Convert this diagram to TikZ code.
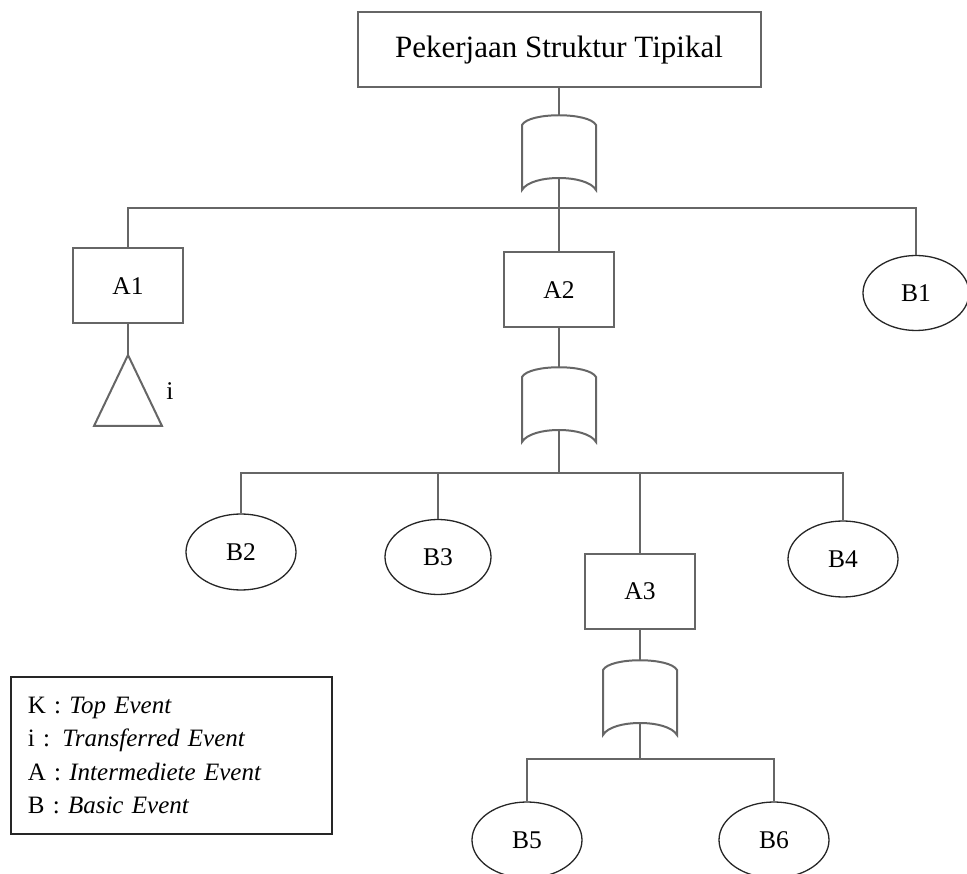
\documentclass[tikz,border=0pt]{standalone}
\usepackage{fontspec}
\setmainfont{Liberation Serif}
\usetikzlibrary{positioning,shapes.geometric}

\begin{document}
\begin{tikzpicture}[
  x=1pt, y=-1pt,
  line/.style={draw=black!60, line width=2pt},
  box/.style={line, minimum width=110pt, minimum height=75pt, font=\fontsize{25.5}{30}\selectfont},
  basic/.style={ellipse, draw=black!85, line width=1.3pt, minimum width=110pt, minimum height=76pt, inner sep=0pt, font=\fontsize{25.5}{30}\selectfont},
  gate/.pic={
    \draw[line] (-37,10) .. controls (-30,-3) and (30,-3) .. (37,10) -- (37,75)
      .. controls (28,59) and (-28,59) .. (-37,75) -- cycle;
    \coordinate (-top) at (0,0);
    \coordinate (-bot) at (0,63);
  },
  transfer/.pic={
    \draw[line] (0,0) -- (34,71) -- (-34,71) -- cycle;
    \coordinate (-top) at (0,0);
  }
]
\useasboundingbox (0,0) rectangle (967,874);

\node[line, minimum width=403pt, minimum height=75pt, font=\fontsize{31}{36}\selectfont] (top) at (559,50) {Pekerjaan Struktur Tipikal};
\pic (g1) at (559,115) {gate};
\coordinate (j1) at (559,208);

\node[box] (a1) at (128,286) {A1};
\node[box] (a2) at (559,290) {A2};
\node[basic, minimum width=106pt, minimum height=75pt] (b1) at (916,293) {B1};
\pic (t1) at (128,355) {transfer};
\node[font=\fontsize{25.5}{30}\selectfont] (ilab) at (170,391) {i};

\pic (g2) at (559,367) {gate};
\coordinate (j2) at (559,473);
\node[basic] (b2) at (241,552) {B2};
\node[basic, minimum width=106pt, minimum height=75pt] (b3) at (438,557) {B3};
\node[box] (a3) at (640,591) {A3};
\node[basic] (b4) at (843,559) {B4};

\pic (g3) at (640,660) {gate};
\coordinate (j3) at (640,759);
\node[basic] (b5) at (527,840) {B5};
\node[basic] (b6) at (774,840) {B6};

\node[draw=black!85, line width=1.5pt, anchor=north west, minimum width=321pt, minimum height=157pt,
  text width=287pt, inner xsep=17pt, align=left, font=\fontsize{25}{33.5}\selectfont] (legend) at (10,676)
  {K : \textit{Top Event}\\ i : \textit{Transferred Event}\\ A : \textit{Intermediete Event}\\ B : \textit{Basic Event}};

\draw[line] (top) -- (g1-top);
\draw[line] (g1-bot) -- (j1);
\draw[line] (a1.north) |- (j1) -| (b1.north);
\draw[line] (j1) -- (a2.north);
\draw[line] (a1.south) -- (t1-top);
\draw[line] (a2.south) -- (g2-top);
\draw[line] (g2-bot) -- (j2);
\draw[line] (b2.north) |- (j2) -| (b4.north);
\draw[line] (b3.north) -- (b3.north |- j2);
\draw[line] (a3.north) -- (a3.north |- j2);
\draw[line] (a3.south) -- (g3-top);
\draw[line] (g3-bot) -- (j3);
\draw[line] (b5.north) |- (j3) -| (b6.north);
\end{tikzpicture}
\end{document}
